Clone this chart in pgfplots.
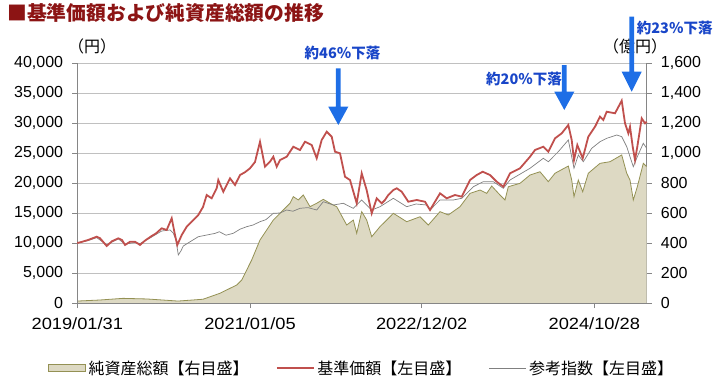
\documentclass[border=0pt]{standalone}
\usepackage{fontspec}
\usepackage{pgfplots}
\usepackage{pgfplotstable}
\pgfplotsset{compat=1.18}
\setmainfont{Liberation Sans}
\newfontfamily\jp{Noto Sans CJK JP}
\newfontfamily\tickfont{Liberation Sans}
\newfontfamily\tickx[FakeStretch=1.12]{Liberation Sans}
\definecolor{titlered}{RGB}{140,20,20}
\definecolor{navred}{RGB}{192,80,77}
\definecolor{refgray}{RGB}{128,128,128}
\definecolor{areafill}{RGB}{221,217,195}
\definecolor{areaedge}{RGB}{148,145,84}
\definecolor{gridgray}{RGB}{192,192,192}
\definecolor{axgray}{RGB}{134,134,134}
\definecolor{arrowblue}{RGB}{30,110,230}
\definecolor{textblue}{RGB}{25,70,200}

\pgfplotstableread{
x y
0 10000
4.7 10200
10.7 10500
19.4 11050
22.7 10800
29.4 9500
34.7 10300
41 10780
44.7 10500
47.7 9670
52.7 10200
57.7 10220
62.7 9670
67.7 10400
74.4 11170
78.7 11600
84.4 12450
89.4 12170
94.4 14120
97.7 11330
100 9670
104.4 11330
109.4 12720
114.7 13600
121 14670
125.7 16000
129.4 18000
134.4 17450
139.4 19120
141 20500
146 18550
152.7 20780
157.7 19670
162.7 21330
167.7 21800
172.7 22450
177.7 23500
182.7 26880
187.7 22720
192.7 23550
196 24380
199.4 22720
202.7 23830
209.4 24380
216 26050
222.7 25500
227.7 26880
234.4 26330
239.4 24120
244.4 27170
249.4 28550
254.4 27720
257.7 25220
262.7 24950
267.7 21050
272.7 20500
279.4 16620
284.4 21620
289.4 18800
294.4 14950
299.4 17450
304.4 16620
307.7 17170
311 18000
316 18830
319.4 19120
324.4 18550
331 16880
339.4 17170
347.7 16880
352.7 15500
362.7 18280
369.4 17450
377.7 18000
384.4 17720
392.7 20500
399.4 21330
405.4 21880
412.7 21330
419.4 20220
426 19380
432.7 21620
442.7 22450
452.7 24380
457.7 25500
466 26050
471 25220
477.7 27450
484.4 28280
491 29670
494.4 27170
496.7 23830
500 26330
505.4 24120
511 27720
517.7 29380
522.7 31050
526 30500
529.4 31880
537.7 31620
544.4 33720
547.7 29950
551 28280
552.7 29380
555.4 26050
557.7 23830
560 26050
564.4 30780
567.7 29950
569.4 30200
}\navtable

\pgfplotstableread{
x y
0 10000
10.7 10400
19.4 10900
29.4 9700
41 10700
47.7 9800
57.7 10100
62.7 9900
74.4 11000
84.4 12000
89.4 12100
92.7 12170
96 11620
98.7 10500
101 8000
103.7 8700
106 9500
112.7 10200
121 11050
129.4 11330
137.7 11600
142 11880
148.7 11300
156 11620
162.7 12300
169.4 12720
175.7 13000
182.7 13550
188.7 13900
196 14950
202.7 15000
209.4 15500
215.7 15300
222.7 15780
230.7 15900
239.4 15500
246 16880
256 16330
266 16620
276 15780
284.4 17170
294.4 15500
302.7 16050
316 17450
329.4 16050
338.7 16500
349.4 16330
352.7 15500
362.7 17170
376 17170
384.4 17450
396 19380
406 20220
416 20220
426 19120
432.7 20500
452.7 22450
466 24120
471 23550
481 25220
491 27170
496.7 22450
501 24670
506 23550
514.4 25780
522.7 26880
529.4 27450
539.4 28000
544.4 27720
549.4 26050
556 22720
560 24380
566 26620
569.4 25780
}\reftable

\pgfplotstableread{
x y
0 13
22.7 20
45.7 31
69.4 27
100.7 13
125.7 25
142.7 65
159.4 120
164.4 153
174.4 287
182.7 420
186 453
196 553
202.7 598
212.7 665
216 709
221 687
226 720
232.7 642
239.4 665
246 691
252.7 665
259.4 642
269.4 520
276 553
279.4 465
284.4 609
289.4 553
294.4 442
302.7 509
312.7 575
316 598
329.4 542
342.7 575
351 520
362.7 609
371 587
382.7 642
392.7 731
402.7 753
409.4 731
414.4 780
422.7 720
427.7 687
431 775
442.7 798
452.7 853
462.7 875
471 809
477.7 865
491 913
494.4 820
496.7 709
501 820
505.4 742
511 865
522.7 931
532.7 942
544.4 987
549.4 865
552.7 820
556 687
560 775
566 931
569.4 909
}\aumtable

\begin{document}
\begin{tikzpicture}
\useasboundingbox (0,0) rectangle (719pt,389pt);
\node[anchor=west, inner sep=0pt, text=titlered, font=\jp\bfseries\fontsize{19.8}{22}\selectfont] at (7pt,376.5pt) {■基準価額および純資産総額の推移};
\node[inner sep=0pt, font=\jp\fontsize{16}{18}\selectfont] at (92pt,342.3pt) {（円）};
\node[inner sep=0pt, font=\jp\fontsize{16}{18}\selectfont] at (635pt,342.3pt) {（億円）};

% right axis: net assets (area) + grid
\begin{axis}[
  at={(77.3pt,86pt)}, anchor=south west, scale only axis,
  width=569.4pt, height=240pt,
  xmin=0, xmax=569.4, ymin=0, ymax=1600,
  axis y line*=right, axis x line=none,
  ytick={0,200,...,1600},
  ymajorgrids, grid style={draw=gridgray, line width=0.8pt},
  axis line style={draw=axgray, line width=0.8pt},
  tick style={draw=axgray, line width=0.8pt},
  tick align=outside, major tick length=5pt,
  /pgf/number format/assume math mode=true,
  /pgf/number format/.cd, 1000 sep={,}, /pgfplots/.cd,
  yticklabel style={font=\tickfont\fontsize{16}{18}\selectfont, anchor=west, inner sep=0pt, xshift=9pt},
]
\addplot[draw=none, fill=areafill] table[x=x,y=y]{\aumtable} \closedcycle;
\addplot[draw=areaedge, line width=0.8pt] table[x=x,y=y]{\aumtable};
\end{axis}

% left axis: NAV and reference index
\begin{axis}[
  at={(77.3pt,86pt)}, anchor=south west, scale only axis,
  width=569.4pt, height=240pt,
  xmin=0, xmax=569.4, ymin=0, ymax=40000,
  axis y line*=left, axis x line*=bottom,
  ytick={0,5000,...,40000},
  xtick={0,172.7,344.4,517},
  xticklabels={2019/01/31,2021/01/05,2022/12/02,2024/10/28},
  axis line style={draw=axgray, line width=0.8pt},
  tick style={draw=axgray, line width=0.8pt},
  tick align=outside, major tick length=5pt,
  clip=false,
  scaled y ticks=false,
  /pgf/number format/assume math mode=true,
  /pgf/number format/.cd, 1000 sep={,}, /pgfplots/.cd,
  yticklabel style={font=\tickfont\fontsize{16}{18}\selectfont, anchor=east, inner sep=0pt, xshift=-9pt},
  xticklabel style={font=\tickx\fontsize{16.3}{18}\selectfont, anchor=north, inner sep=0pt, yshift=-9pt},
  legend columns=3,
  legend cell align=left,
  legend image code/.code={\draw[#1] (0pt,0pt) -- (37pt,0pt);},
  legend style={draw=none, fill=none, at={(rel axis cs:0.5,-0.271)}, anchor=center,
    font=\jp\fontsize{16}{18}\selectfont, inner sep=0pt,
    nodes={inner sep=2.5pt},
    /tikz/every even column/.append style={column sep=25pt}},
]
\addlegendimage{legend image code/.code={\draw[fill=areafill,draw=areaedge,line width=0.6pt] (0pt,-3.3pt) rectangle (37pt,3.3pt);}}
\addlegendentry{純資産総額【右目盛】}
\addplot[draw=refgray, line width=0.7pt, forget plot] table[x=x,y=y]{\reftable};
\addplot[draw=navred, line width=1.8pt] table[x=x,y=y]{\navtable};
\addlegendentry{基準価額【左目盛】}
\addlegendimage{draw=refgray, line width=0.7pt}
\addlegendentry{参考指数【左目盛】}

% annotation arrows
\fill[arrowblue] ([xshift=-2.4pt]axis cs:261,39117) -- ([xshift=2.4pt]axis cs:261,39117)
  -- ([xshift=2.4pt]axis cs:261,32717) -- ([xshift=10pt]axis cs:261,32717)
  -- (axis cs:261,29667) -- ([xshift=-10pt]axis cs:261,32717)
  -- ([xshift=-2.4pt]axis cs:261,32717) -- cycle;
\fill[arrowblue] ([xshift=-2.4pt]axis cs:487,39667) -- ([xshift=2.4pt]axis cs:487,39667)
  -- ([xshift=2.4pt]axis cs:487,35217) -- ([xshift=10pt]axis cs:487,35217)
  -- (axis cs:487,32167) -- ([xshift=-10pt]axis cs:487,35217)
  -- ([xshift=-2.4pt]axis cs:487,35217) -- cycle;
\fill[arrowblue] ([xshift=-2.4pt]axis cs:554.4,47717) -- ([xshift=2.4pt]axis cs:554.4,47717)
  -- ([xshift=2.4pt]axis cs:554.4,38550) -- ([xshift=10pt]axis cs:554.4,38550)
  -- (axis cs:554.4,35217) -- ([xshift=-10pt]axis cs:554.4,38550)
  -- ([xshift=-2.4pt]axis cs:554.4,38550) -- cycle;
\node[inner sep=0pt, text=textblue, font=\jp\bfseries\fontsize{14.5}{16}\selectfont] at (axis cs:265.2,41750) {約46％下落};
\node[inner sep=0pt, text=textblue, font=\jp\bfseries\fontsize{14.5}{16}\selectfont] at (axis cs:446.7,37333) {約20％下落};
\node[inner sep=0pt, text=textblue, font=\jp\bfseries\fontsize{14.5}{16}\selectfont] at (axis cs:597.4,45917) {約23％下落};
\end{axis}
\end{tikzpicture}
\end{document}
